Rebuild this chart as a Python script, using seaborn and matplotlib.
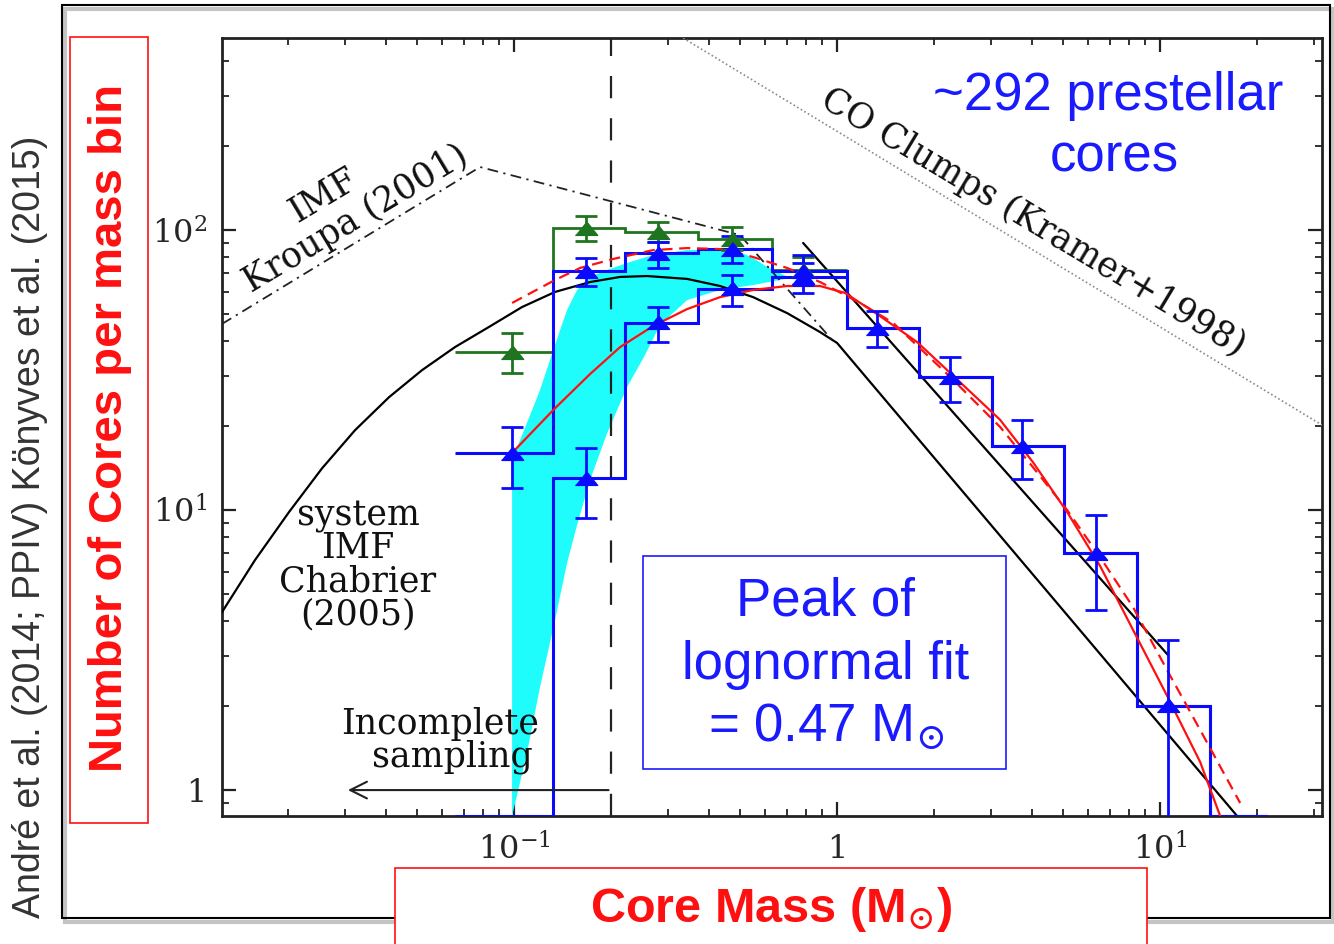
import matplotlib
matplotlib.use('Agg')
import matplotlib.pyplot as plt
import matplotlib.patches as mpatches
from matplotlib.ticker import LogLocator, NullFormatter
import seaborn as sns

W, H = 1334, 944

# --- histograms (core mass function) ---
bin_edges = [0.0657, 0.132, 0.221, 0.371, 0.629, 1.074, 1.794, 3.02, 5.045, 8.49, 14.28, 21.4]
y_bottom, y_top = 0.808, 485
x_left, x_right = 0.01247, 31.7
prestellar_counts = [y_bottom, 13.0, 46.7, 61.6, 68.0, 44.7, 29.9, 16.9, 7.0, 2.0, y_bottom]
candidate_counts = [16.0, 71.6, 82.7, 85.5, 71.4, 44.7, 29.9, 16.9, 7.0, 2.0, y_bottom]
allcores_counts = [36.7, 101.7, 98.4, 92.9, 71.9]

# --- data points with error bars ---
allcores_mass = [0.0986, 0.167, 0.279, 0.473, 0.785]
allcores_n = [36.7, 101.7, 98.4, 92.9, 71.9]
allcores_hi = [42.9, 112.2, 106.8, 102.5, 80.1]
allcores_lo = [30.9, 91.6, 90.6, 84.8, 63.6]

candidate_mass = [0.0986, 0.167, 0.279, 0.473, 0.785]
candidate_n = [16.0, 71.6, 82.7, 85.5, 71.4]
candidate_hi = [19.8, 79.4, 90.8, 95.0, 81.4]
candidate_lo = [12.0, 63.1, 73.2, 76.3, 63.6]

prestellar_mass = [0.167, 0.279, 0.473, 0.785, 1.33, 2.238, 3.74, 6.34, 10.55]
prestellar_n = [13.0, 46.9, 62.1, 68.0, 44.7, 29.9, 16.9, 7.02, 2.01]
prestellar_hi = [16.6, 53.2, 69.0, 76.3, 51.5, 35.3, 21.0, 9.6, 3.43]
prestellar_lo = [9.36, 39.9, 53.6, 59.6, 38.2, 24.3, 12.9, 4.39, 0.0]

# --- model curves ---
chabrier_mass = [0.01247, 0.01578, 0.02011, 0.02545, 0.03221, 0.04102, 0.0519, 0.06566, 0.0837,
                 0.1059, 0.1339, 0.1719, 0.213, 0.258, 0.3432, 0.4343, 0.5495,
                 0.7003, 0.8859, 1.0, 17.31]
chabrier_n = [4.32, 6.63, 9.84, 14.1, 19.3, 25.3, 31.6, 38.2, 45.1,
              53.1, 60.1, 65.2, 68.0, 68.5, 66.9, 63.1, 57.6,
              50.5, 43.2, 39.5, 0.808]

kroupa_mass = [0.01247, 0.07846, 0.5008, 0.965]
kroupa_n = [46.2, 167.9, 95.9, 40.5]

salpeter_mass = [0.785, 10.59]
salpeter_n = [89.9, 3.03]

co_mass = [0.3336, 31.74]
co_n = [485, 20.1]

fit_mass = [0.0986, 0.1339, 0.1719, 0.213, 0.2694, 0.3432, 0.4343, 0.5495, 0.7003, 0.8859, 1.059,
            1.33, 1.769, 2.238, 3.196, 4.043, 5.153, 6.519, 8.246, 10.51, 13.30, 15.34]
fit_n = [16.0, 23.1, 30.6, 38.2, 45.4, 52.2, 57.6, 61.1, 63.1, 63.1, 59.6,
         50.1, 39.8, 30.9, 21.0, 14.8, 9.84, 6.31, 3.73, 2.17, 1.26, 0.808]

fit2_mass = [0.0986, 0.1339, 0.1601, 0.2025, 0.2694, 0.3432, 0.4343, 0.5495, 0.7003, 0.8859, 1.178,
             1.491, 2.238, 3.196, 4.043, 5.153, 6.519, 8.246, 10.51, 13.30, 17.69]
fit2_n = [54.9, 66.3, 73.2, 78.8, 84.8, 86.2, 85.5, 80.1, 73.2, 65.2, 54.9,
          46.6, 29.9, 19.8, 14.2, 10.0, 6.79, 4.50, 2.68, 1.64, 0.899]

# cyan band (outline: upper edge left->right, lower edge right->left)
band_mass = [0.0986, 0.0986, 0.1097, 0.1203, 0.1292, 0.1388, 0.1459, 0.1567, 0.1719, 0.1941,
             0.2238, 0.2694, 0.3432, 0.4343, 0.5008, 0.5495, 0.6073, 0.7152, 0.5495, 0.4343,
             0.3432, 0.2831, 0.2544, 0.2238, 0.1941, 0.1719, 0.1567, 0.1459, 0.1339, 0.1203, 0.1097]
band_n = [0.808, 15.1, 20.5, 26.8, 34.3, 43.9, 51.8, 61.1, 68.0, 71.9,
          76.3, 81.4, 84.8, 84.8, 83.4, 79.4, 73.8, 67.4, 63.6, 61.1,
          56.2, 45.8, 35.8, 27.5, 18.8, 12.8, 8.84, 6.47, 4.05, 2.33, 1.36]

completeness_mass = 0.2
arrow_end_mass = 0.030

x_ticks = [0.1, 1, 10]
x_tick_labels = [r'$10^{-1}$', '1', r'$10^{1}$']
y_ticks = [1, 10, 100]
y_tick_labels = ['1', r'$10^{1}$', r'$10^{2}$']

BLUE = '#0a0aff'
GREEN = '#1f751f'
RED = '#ff1010'
CYAN = '#1ffcfc'
TXT_BLUE = '#1a1aff'
SERIF = 'DejaVu Serif'


def px(x, y):
    """pixel position -> figure fraction"""
    return x / W, 1 - y / H


sns.set_style('ticks')
plt.rcParams['font.family'] = ['DejaVu Serif', 'DejaVu Sans']
plt.rcParams['mathtext.fontset'] = 'dejavuserif'

fig = plt.figure(figsize=(W / 100, H / 100), dpi=100)
fig.patch.set_facecolor('white')
ax = fig.add_axes([222 / W, 1 - 816 / H, 1100 / W, 778 / H])
ax.set_xscale('log')
ax.set_yscale('log')
ax.set_xlim(x_left, x_right)
ax.set_ylim(y_bottom, y_top)

# cyan band and completeness limit
ax.fill(band_mass, band_n, color=CYAN, lw=0, zorder=1)
ax.axvline(completeness_mass, color='#222222', lw=1.6, ls=(0, (10, 9)), zorder=2)

# reference IMFs and CO clumps
sns.lineplot(x=chabrier_mass, y=chabrier_n, ax=ax, color='black', lw=1.6, sort=False, estimator=None, zorder=3)
sns.lineplot(x=kroupa_mass, y=kroupa_n, ax=ax, color='#222222', lw=1.3, ls=(0, (6, 3, 1.2, 3)),
             sort=False, estimator=None, zorder=3)
sns.lineplot(x=salpeter_mass, y=salpeter_n, ax=ax, color='black', lw=1.6, sort=False, estimator=None, zorder=3)
sns.lineplot(x=co_mass, y=co_n, ax=ax, color='#8a8a8a', lw=1.2, ls=(0, (1, 1.5)), sort=False,
             estimator=None, zorder=3)

# histograms
ax.stairs(allcores_counts, bin_edges[:6], color=GREEN, lw=2.0, baseline=None, zorder=4)
ax.stairs(candidate_counts, bin_edges, color=BLUE, lw=2.2, baseline=None, zorder=5)
ax.stairs(prestellar_counts, bin_edges, color=BLUE, lw=2.2, baseline=None, zorder=5)

# lognormal fits
sns.lineplot(x=fit2_mass, y=fit2_n, ax=ax, color=RED, lw=1.6, ls=(0, (5, 3)), sort=False,
             estimator=None, zorder=6)
sns.lineplot(x=fit_mass, y=fit_n, ax=ax, color=RED, lw=1.6, sort=False, estimator=None, zorder=6)

# points with error bars
tri = [(-1, -0.62), (1, -0.62), (0, 0.62)]


def err(n, lo, hi):
    return [[a - b for a, b in zip(n, lo)], [c - a for a, c in zip(n, hi)]]


ax.errorbar(allcores_mass, allcores_n, yerr=err(allcores_n, allcores_lo, allcores_hi), fmt='none',
            ecolor=GREEN, elinewidth=2.0, capsize=8, capthick=2.0, zorder=7)
ax.plot(allcores_mass, allcores_n, ls='none', marker=tri, ms=16, color=GREEN, zorder=8)
ax.errorbar(candidate_mass, candidate_n, yerr=err(candidate_n, candidate_lo, candidate_hi), fmt='none',
            ecolor=BLUE, elinewidth=2.0, capsize=8, capthick=2.0, zorder=7)
ax.plot(candidate_mass, candidate_n, ls='none', marker=tri, ms=16, color=BLUE, zorder=8)
ax.errorbar(prestellar_mass, prestellar_n, yerr=err(prestellar_n, prestellar_lo, prestellar_hi), fmt='none',
            ecolor=BLUE, elinewidth=2.0, capsize=8, capthick=2.0, zorder=7)
ax.plot(prestellar_mass, prestellar_n, ls='none', marker=tri, ms=16, color=BLUE, zorder=8)

# incomplete sampling arrow
ax.annotate('', xy=(arrow_end_mass, 1.0), xytext=(completeness_mass, 1.0),
            arrowprops=dict(arrowstyle='->', lw=1.5, color='#222222', mutation_scale=30), zorder=6)

# axes styling
ax.set_xticks(x_ticks)
ax.set_xticklabels(x_tick_labels)
ax.set_yticks(y_ticks)
ax.set_yticklabels(y_tick_labels)
ax.xaxis.set_minor_locator(LogLocator(base=10, subs=range(2, 10)))
ax.yaxis.set_minor_locator(LogLocator(base=10, subs=range(2, 10)))
ax.xaxis.set_minor_formatter(NullFormatter())
ax.yaxis.set_minor_formatter(NullFormatter())
ax.tick_params(which='both', direction='in', top=True, right=True, color='#222222')
ax.tick_params(which='major', length=10, width=1.6, labelsize=23)
ax.tick_params(axis='x', which='major', pad=13)
ax.tick_params(axis='y', which='major', pad=11)
ax.tick_params(which='minor', length=5, width=1.3)
for s in ax.spines.values():
    s.set_linewidth(2.0)
    s.set_color('#222222')
ax.set_xlabel('')
ax.set_ylabel('')

# annotations inside the plot
serif_kw = dict(family=SERIF, fontsize=25, color='#111111', ha='center', va='center')
fig.text(*px(323, 196), 'IMF', rotation=31, **serif_kw)
fig.text(*px(356, 219), 'Kroupa (2001)', rotation=31, **serif_kw)
fig.text(*px(1033, 222), 'CO Clumps (Kramer+1998)', rotation=-31, **serif_kw)
for label, yy in zip(['system', 'IMF', 'Chabrier', '(2005)'], [516, 548, 582, 614]):
    fig.text(*px(358, yy), label, **serif_kw)
fig.text(*px(440, 724), 'Incomplete', **serif_kw)
fig.text(*px(452, 757), 'sampling', **serif_kw)

sans_kw = dict(family=['Liberation Sans', 'DejaVu Sans'], ha='center', va='center')
fig.text(*px(1108, 96), '~292 prestellar', fontsize=38, color=TXT_BLUE, **sans_kw)
fig.text(*px(1114, 158), 'cores', fontsize=38, color=TXT_BLUE, **sans_kw)

fig.patches.append(mpatches.Rectangle(px(643, 769), 363 / W, 213 / H, transform=fig.transFigure,
                                      fill=True, fc='white', ec=TXT_BLUE, lw=1.2, zorder=10))
fig.text(*px(826, 601), 'Peak of', fontsize=38, color=TXT_BLUE, zorder=11, **sans_kw)
fig.text(*px(826, 665), 'lognormal fit', fontsize=38, color=TXT_BLUE, zorder=11, **sans_kw)
fig.text(*px(826, 728), r'= 0.47 M$_{\odot}$', fontsize=38, color=TXT_BLUE, zorder=11, **sans_kw)

# outer frame and axis titles in boxes
fig.patches.append(mpatches.Rectangle(px(65, 922), 1268 / W, 913 / H, transform=fig.transFigure,
                                      fill=False, ec='#c4c4c4', lw=3, zorder=0))
fig.patches.append(mpatches.Rectangle(px(62, 918), 1268 / W, 913 / H, transform=fig.transFigure,
                                      fill=False, ec='black', lw=1.5, zorder=1))
fig.patches.append(mpatches.Rectangle(px(70, 823), 78 / W, 786 / H, transform=fig.transFigure,
                                      fill=True, fc='white', ec=RED, lw=1.2, zorder=10))
fig.text(*px(110, 428), 'Number of Cores per mass bin', rotation=90, fontsize=34, fontweight='bold',
         color=RED, zorder=11, **sans_kw)
fig.patches.append(mpatches.Rectangle(px(395, 950), 752 / W, 82 / H, transform=fig.transFigure,
                                      fill=True, fc='white', ec=RED, lw=1.2, zorder=10))
fig.text(*px(771, 910), r'Core Mass (M$_{\odot}$)', fontsize=35, fontweight='bold',
         color=RED, zorder=11, **sans_kw)
fig.text(*px(30, 527), 'André et al. (2014; PPIV) Könyves et al. (2015)', rotation=90, fontsize=27,
         color='#333333', **sans_kw)

fig.savefig('out.png', dpi=100)
